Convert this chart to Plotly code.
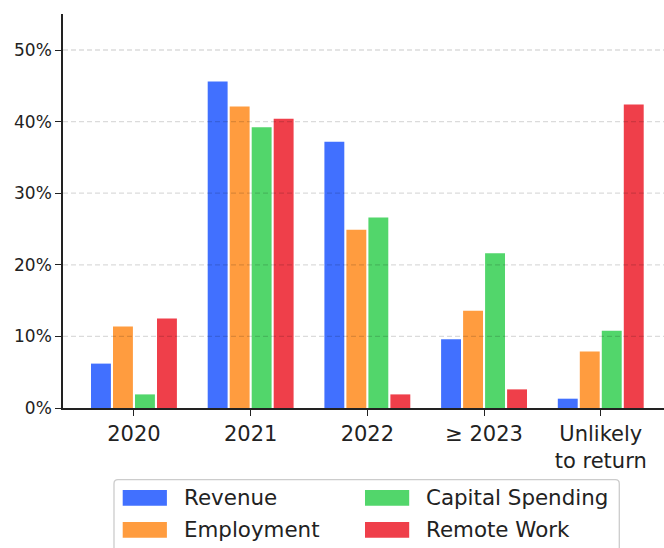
import plotly.graph_objects as go

# Share of firms expecting a return to pre-pandemic levels, by year
categories = ["2020", "2021", "2022", "\u2265 2023", "Unlikely<br>to return"]
series_names = ["Revenue", "Employment", "Capital Spending", "Remote Work"]
revenue = [6.2, 45.6, 37.2, 9.6, 1.3]
employment = [11.4, 42.1, 24.9, 13.6, 7.9]
capital_spending = [1.9, 39.2, 26.6, 21.6, 10.8]
remote_work = [12.5, 40.4, 1.9, 2.6, 42.4]
y_ticks = [0, 10, 20, 30, 40, 50]
y_tick_labels = [f"{v}%" for v in y_ticks]

colors = ["#4170ff", "#ff9c3f", "#52d66b", "#ef3f4a"]
values = [revenue, employment, capital_spending, remote_work]

FONT = "DejaVu Sans"
INK = "#222222"

W, H = 664, 548
L, R, T, B = 63, 0, 14, 140
PW, PH = W - L - R, H - T - B


def px_x(p):
    return (p - L) / PW


def px_y(p):
    return (H - B - p) / PH


fig = go.Figure()
for name, vals, col in zip(series_names, values, colors):
    fig.add_trace(go.Bar(
        x=categories, y=vals, name=name,
        marker=dict(color=col, line=dict(width=0)),
        showlegend=False,
        hovertemplate="%{y:.1f}%<extra>" + name + "</extra>",
    ))

shapes = []
# dashed horizontal grid drawn over the bars
for v in y_ticks[1:]:
    shapes.append(dict(
        type="line", xref="paper", yref="y", x0=0, x1=1, y0=v, y1=v,
        line=dict(color="rgba(0,0,0,0.14)", width=1.3, dash="5px,3px"),
        layer="above",
    ))

# legend frame with rounded corners
bx0, bx1 = px_x(114), px_x(619.3)
by0, by1 = px_y(479.7), px_y(560)
rx, ry = 4 / PW, 4 / PH
frame = (
    f"M{bx0 + rx},{by0} L{bx1 - rx},{by0} Q{bx1},{by0} {bx1},{by0 - ry} "
    f"L{bx1},{by1 + ry} Q{bx1},{by1} {bx1 - rx},{by1} "
    f"L{bx0 + rx},{by1} Q{bx0},{by1} {bx0},{by1 + ry} "
    f"L{bx0},{by0 - ry} Q{bx0},{by0} {bx0 + rx},{by0} Z"
)
shapes.append(dict(
    type="path", xref="paper", yref="paper", path=frame,
    fillcolor="rgba(255,255,255,0.9)",
    line=dict(color="#cccccc", width=1.3), layer="above",
))

annotations = []
col_x = [(122.7, 182.0), (365.0, 424.3)]
row_y = [(490.0, 505.7), (522.0, 537.7)]
for i, (name, col) in enumerate(zip(series_names, colors)):
    c, r = i // 2, i % 2
    sx, tx = col_x[c]
    y0, y1 = row_y[r]
    shapes.append(dict(
        type="rect", xref="paper", yref="paper",
        x0=px_x(sx), x1=px_x(sx + 44.2), y0=px_y(y1), y1=px_y(y0),
        fillcolor=col, line=dict(width=0), layer="above",
    ))
    annotations.append(dict(
        xref="paper", yref="paper", x=px_x(tx), y=px_y((y0 + y1) / 2),
        text=name, showarrow=False, xanchor="left", yanchor="middle",
        font=dict(family=FONT, size=21.4, color=INK),
    ))

fig.update_layout(
    width=W, height=H,
    margin=dict(l=L, r=R, t=T, b=B, pad=0),
    paper_bgcolor="white", plot_bgcolor="white",
    barmode="group", bargap=0.246, bargroupgap=0.095,
    font=dict(family=FONT, color=INK),
    shapes=shapes, annotations=annotations,
    showlegend=False,
    xaxis=dict(
        type="category", range=[-0.608, 4.542],
        showgrid=False, zeroline=False,
        showline=True, linecolor="#222222", linewidth=1.5,
        ticks="outside", ticklen=6, tickwidth=1.3, tickcolor="#222222",
        tickfont=dict(family=FONT, size=21, color=INK),
        fixedrange=True,
    ),
    yaxis=dict(
        range=[0, 55.03], tickvals=y_ticks, ticktext=y_tick_labels,
        showgrid=False, zeroline=False,
        showline=True, linecolor="#222222", linewidth=1.5,
        ticks="outside", ticklen=6, tickwidth=1.3, tickcolor="#222222",
        tickfont=dict(family=FONT, size=17, color=INK),
        fixedrange=True,
    ),
)

fig.write_html("out.html")
